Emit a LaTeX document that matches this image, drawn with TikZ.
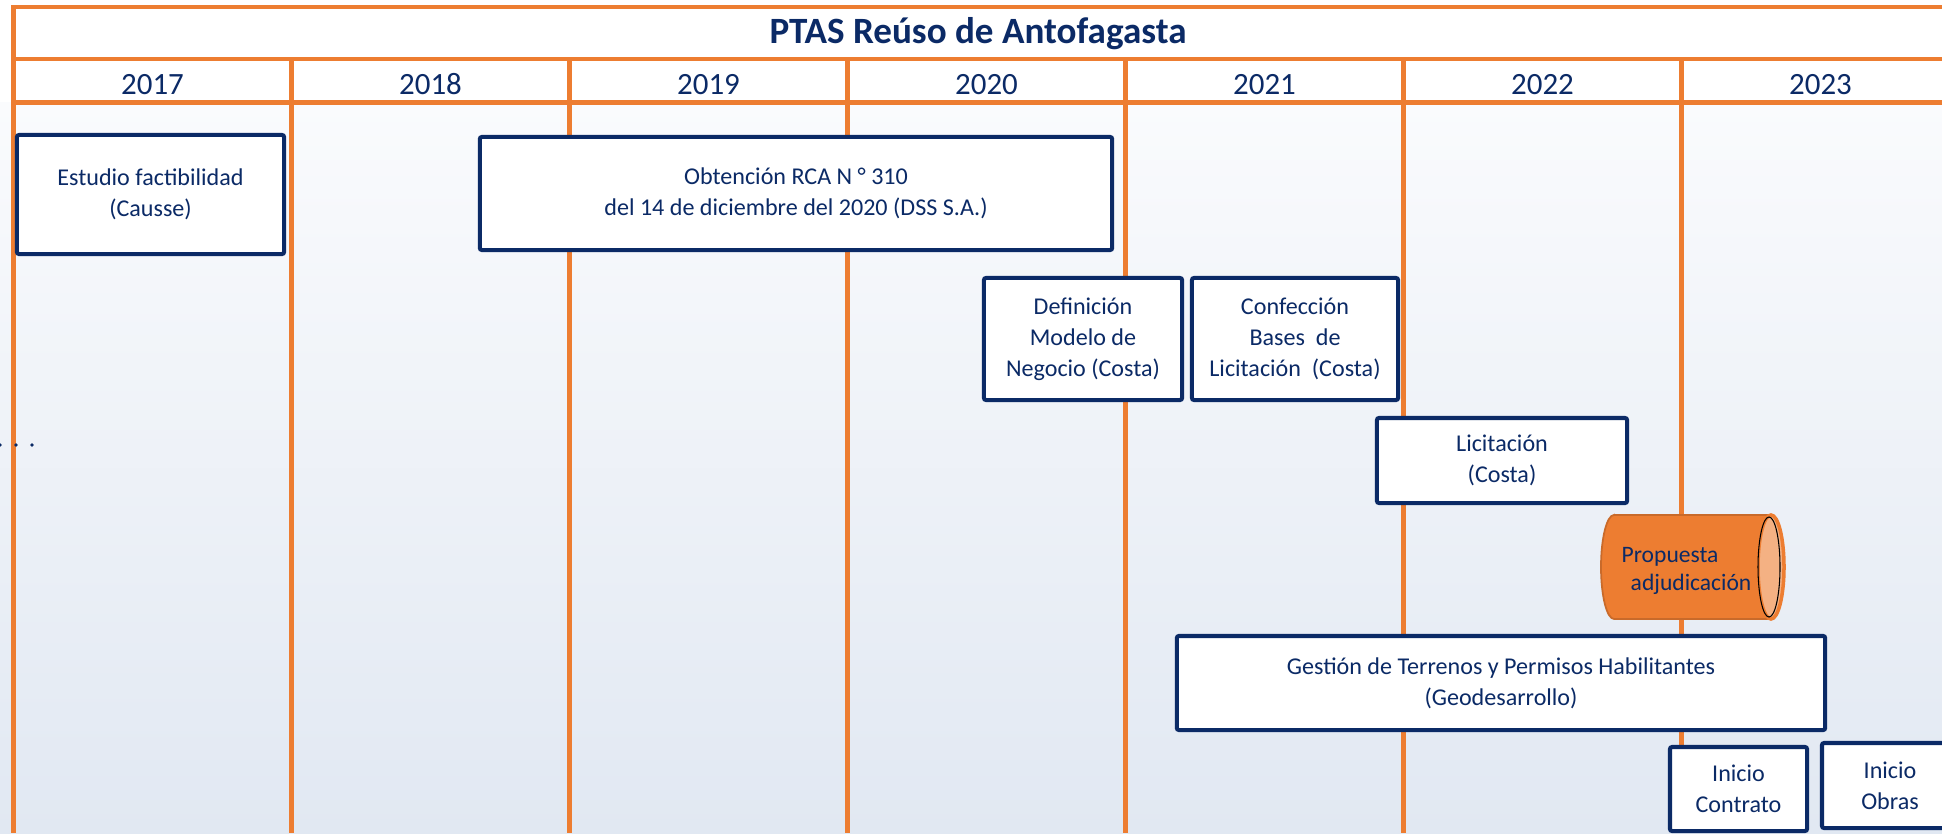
\documentclass[tikz,border=0pt]{standalone}
\usepackage{fontspec}
\setmainfont{Carlito}
\definecolor{rejilla}{HTML}{ED7D31}
\definecolor{tapa}{HTML}{F4B183}
\definecolor{marino}{HTML}{0B2A66}
\definecolor{fondoarriba}{HTML}{FAFBFD}
\definecolor{fondoabajo}{HTML}{E1E8F2}

\begin{document}
\begin{tikzpicture}[x=0.01cm, y=-0.01cm,
    linea/.style={draw=rejilla, line width=1.15pt},
    hito/.style={draw=marino, line width=1.15pt, fill=white, rounded corners=0.6pt,
        align=center, inner sep=0pt, text=marino, font=\fontsize{6.85}{8.8}\selectfont},
    rotulo/.style={text=marino, font=\fontsize{8.8}{10}\selectfont, anchor=base}]
    \clip (0,0) rectangle (1942,833);
    % fondo
    \shade[top color=fondoarriba, bottom color=fondoabajo] (0,102) rectangle (1942,833);
    \fill[white] (0,0) rectangle (1942,102);
    % rejilla de anios
    \draw[linea] (1942,7) -- (13.5,7) -- (13.5,833);
    \draw[linea] (13.5,59) -- (1942,59);
    \draw[linea] (13.5,102.5) -- (1942,102.5);
    \foreach \i in {1,...,6}
        \draw[linea] ({13.5+278*\i},59) -- ({13.5+278*\i},833);
    \node[text=marino, font=\fontsize{10.55}{12}\selectfont\bfseries] (titulo) at (978,34) {PTAS Reúso de Antofagasta};
    \foreach \anio [count=\i from 0] in {2017,2018,2019,2020,2021,2022,2023}
        \node[rotulo] (a\anio) at ({152.5+278*\i},94) {\anio};
    % puntos
    \foreach \px in {0,16,32}
        \fill[marino] (\px,445) circle[radius=0.018cm];
    % hitos
    \node[hito, minimum width=2.67cm, minimum height=1.19cm] (estudio) at (150.5,194.5) {Estudio factibilidad\\(Causse)};
    \node[hito, minimum width=6.32cm, minimum height=1.13cm] (obtencion) at (796,193.5) {Obtención RCA N ° 310\\del 14 de diciembre del 2020 (DSS S.A.)};
    \node[hito, minimum width=1.98cm, minimum height=1.22cm] (definicion) at (1083,339) {Definición\\Modelo de\\Negocio (Costa)};
    \node[hito, minimum width=2.06cm, minimum height=1.22cm] (confeccion) at (1295,339) {Confección\\Bases\ \ de\\Licitación\ \ (Costa)};
    \node[hito, minimum width=2.50cm, minimum height=0.85cm] (licitacion) at (1502,460.5) {Licitación\\(Costa)};
    % cilindro
    \path[fill=rejilla, draw=rejilla!85!black, line width=0.5pt] (1614,515) -- (1771,515) -- (1771,619) -- (1614,619)
        arc[start angle=270, end angle=90, x radius=0.13cm, y radius=0.52cm] -- cycle;
    \draw[fill=tapa, draw=rejilla, line width=1pt] (1771,567) ellipse[x radius=0.13cm, y radius=0.52cm];
    \draw[black, line width=0.3pt] (1769,567) ellipse[x radius=0.11cm, y radius=0.50cm];
    \node[text=marino, font=\fontsize{6.7}{8}\selectfont, align=left, inner sep=0pt, anchor=west] (propuesta) at (1621,571) {Propuesta\\\hspace{0.09cm}adjudicación};
    \node[hito, minimum width=6.48cm, minimum height=0.94cm] (gestion) at (1501,683) {Gestión de Terrenos y Permisos Habilitantes\\(Geodesarrollo)};
    \node[hito, minimum width=1.37cm, minimum height=0.84cm] (contrato) at (1738.5,789) {Inicio\\Contrato};
    \node[hito, minimum width=1.36cm, minimum height=0.85cm] (obras) at (1890,785.5) {Inicio\\Obras};
\end{tikzpicture}
\end{document}
